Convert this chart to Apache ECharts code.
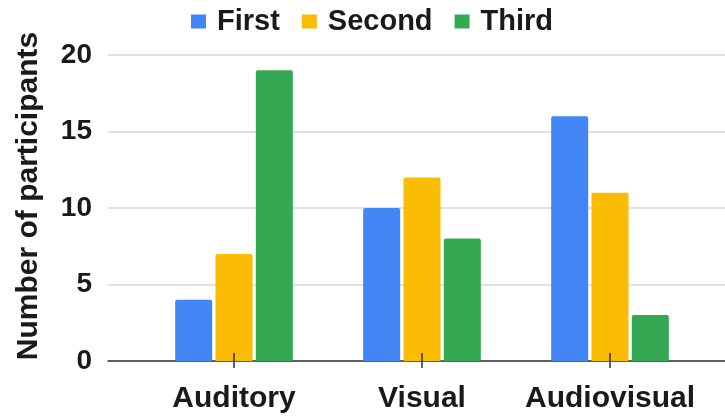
<!DOCTYPE html>
<html>
<head>
<meta charset="utf-8">
<script src="https://cdn.jsdelivr.net/npm/echarts@6/dist/echarts.min.js"></script>
<style>
  html, body { margin: 0; padding: 0; background: #fff; }
  #chart { width: 725px; height: 418px; }
</style>
</head>
<body>
<div id="chart"></div>
<script>
// Participants ranking each modality first / second / third
const categories = ['Auditory', 'Visual', 'Audiovisual'];
const seriesNames = ['First', 'Second', 'Third'];
const firstValues = [4, 10, 16];
const secondValues = [7, 12, 11];
const thirdValues = [19, 8, 3];
const yTicks = { min: 0, max: 20, interval: 5 };

const colors = ['#4285F4', '#FBBC04', '#34A853'];
const font = 'Arial, "Liberation Sans", sans-serif';
const textColor = '#1a1a1a';

const chart = echarts.init(document.getElementById('chart'), null, { renderer: 'canvas' });

const values = [firstValues, secondValues, thirdValues];

chart.setOption({
  animation: false,
  color: colors,
  legend: {
    top: 2,
    left: 186,
    itemWidth: 15,
    itemHeight: 14,
    itemGap: 22,
    icon: 'rect',
    textStyle: {
      fontFamily: font, fontWeight: 'bold', fontSize: 29, color: textColor,
      padding: [0, 0, 0, 6]
    },
    data: seriesNames
  },
  grid: [
    // plot frame: gridlines and baseline
    { left: 108, top: 55, width: 628, height: 306 },
    // bar area
    { left: 140, top: 55, width: 564, height: 306 }
  ],
  xAxis: [
    {
      gridIndex: 0, type: 'value', position: 'bottom', min: 0, max: 1,
      axisLine: { show: true, lineStyle: { color: '#333', width: 1.5 } },
      axisTick: { show: false }, axisLabel: { show: false }, splitLine: { show: false }
    },
    {
      gridIndex: 1, type: 'category', position: 'bottom', data: categories,
      axisLine: { show: false },
      axisTick: { show: true, alignWithLabel: true, length: 7, lineStyle: { color: '#333', width: 1.5 } },
      axisLabel: {
        interval: 0, margin: 23,
        fontFamily: font, fontWeight: 'bold', fontSize: 30, color: textColor
      },
      z: 5
    },
    {
      gridIndex: 1, type: 'category', position: 'bottom', data: categories,
      axisLine: { show: false },
      axisTick: { show: true, inside: true, alignWithLabel: true, length: 8, lineStyle: { color: '#333', width: 1.5 } },
      axisLabel: { show: false },
      z: 5
    }
  ],
  yAxis: [
    {
      gridIndex: 0, type: 'value', min: yTicks.min, max: yTicks.max, interval: yTicks.interval,
      name: 'Number of participants',
      nameLocation: 'middle',
      nameGap: 64,
      nameTextStyle: {
        fontFamily: font, fontWeight: 'bold', fontSize: 30, color: textColor,
        padding: [0, 0, 0, 24]
      },
      axisLine: { show: false }, axisTick: { show: false },
      axisLabel: { margin: 16, fontFamily: font, fontWeight: 'bold', fontSize: 28, color: textColor },
      splitLine: { lineStyle: { color: '#d6d6d6', width: 1.5 } }
    },
    {
      gridIndex: 1, type: 'value', min: yTicks.min, max: yTicks.max, interval: yTicks.interval,
      show: false, splitLine: { show: false }
    }
  ],
  series: seriesNames.map((name, i) => ({
    name,
    type: 'bar',
    xAxisIndex: 1,
    yAxisIndex: 1,
    data: values[i],
    barWidth: 37,
    barGap: '9%',
    itemStyle: { borderRadius: [2, 2, 0, 0] }
  }))
});
</script>
</body>
</html>
